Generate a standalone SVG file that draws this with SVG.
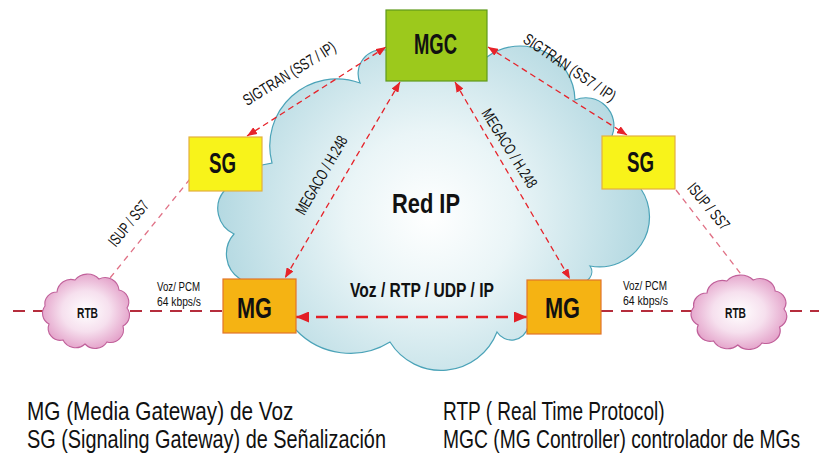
<svg xmlns="http://www.w3.org/2000/svg" width="819" height="463" viewBox="0 0 819 463">
<style>
  text { font-family: "Liberation Sans", Arial, sans-serif; fill: #111; }
  .b { font-weight: bold; }
  .box-mgc { fill: #9cc91c; stroke: #5f9a1c; stroke-width: 1.2; }
  .box-sg { fill: #f8f31a; stroke: #e3b040; stroke-width: 1.2; }
  .box-mg { fill: #f5b313; stroke: #e2742a; stroke-width: 1.2; }
  .sig { fill: none; stroke: #e6232a; stroke-width: 1.3; stroke-dasharray: 6 4; }
  .isup { fill: none; stroke: #e07085; stroke-width: 1.3; stroke-dasharray: 6 5; }
  .media { fill: none; stroke: #e21f26; stroke-width: 2.4; stroke-dasharray: 12 8; }
  .pstn { fill: none; stroke: #b52d3c; stroke-width: 2; stroke-dasharray: 12 8; }
  .small { font-size: 13px; }
  .rot { font-size: 16px; }
  .legend { font-size: 25px; }
</style>
<defs>
  <radialGradient id="gIP" gradientUnits="userSpaceOnUse" cx="430" cy="215" r="240">
    <stop offset="0" stop-color="#ffffff"/>
    <stop offset="0.35" stop-color="#eaf5f7"/>
    <stop offset="1" stop-color="#a9d3dd"/>
  </radialGradient>
  <radialGradient id="gRTB" cx="0.5" cy="0.5" r="0.55">
    <stop offset="0" stop-color="#ffffff"/>
    <stop offset="0.5" stop-color="#f6e0ee"/>
    <stop offset="1" stop-color="#e29cc6"/>
  </radialGradient>
  <marker id="arS" markerUnits="userSpaceOnUse" markerWidth="10" markerHeight="8" viewBox="0 0 10 8" refX="10" refY="4" orient="auto-start-reverse">
    <path d="M0,0 L10,4 L0,8 z" fill="#e6232a"/>
  </marker>
  <marker id="arL" markerUnits="userSpaceOnUse" markerWidth="13" markerHeight="11" viewBox="0 0 13 11" refX="13" refY="5.5" orient="auto-start-reverse">
    <path d="M0,0 L13,5.5 L0,11 z" fill="#e21f26"/>
  </marker>
  <path id="rtbShape" d="M -30,-18 A 14 14 0 0 1 -12,-30 A 16 16 0 0 1 12,-31 A 14 14 0 0 1 32,-20 A 12 12 0 0 1 40,-2 A 12 12 0 0 1 36,16 A 13 13 0 0 1 20,32 A 14 14 0 0 1 -2,34 A 14 14 0 0 1 -24,30 A 12 12 0 0 1 -38,14 A 12 12 0 0 1 -42,-4 A 12 12 0 0 1 -30,-18 Z" fill="url(#gRTB)" stroke="#c0609a" stroke-width="1.1"/>
</defs>

<g id="red-ip">
  <path d="M 386,50 L 487,57 A 55 55 0 0 1 575,100 A 28 28 0 0 1 612,136 L 641,189 A 50 50 0 0 1 590,266 A 10 10 0 0 1 578,281 L 528,327 A 17 17 0 0 1 497,332 A 60 60 0 0 1 390,342 A 75 75 0 0 1 296,330 L 240,279 A 30 30 0 0 1 234,234 A 28 28 0 0 1 224,191 L 262,165 L 272,163 A 67 67 0 0 1 360,83 A 24 24 0 0 1 386,50 Z" fill="url(#gIP)" stroke="#4ba3b8" stroke-width="1.2"/>
  <text class="b" x="392" y="213" font-size="28" textLength="68" lengthAdjust="spacingAndGlyphs">Red IP</text>
</g>

<g id="connectors">
  <line class="sig" x1="386" y1="47" x2="247" y2="136" marker-start="url(#arS)" marker-end="url(#arS)"/>
  <line class="sig" x1="488" y1="47" x2="627" y2="135" marker-start="url(#arS)" marker-end="url(#arS)"/>
  <line class="sig" x1="400" y1="82" x2="285" y2="278" marker-start="url(#arS)" marker-end="url(#arS)"/>
  <line class="sig" x1="455" y1="82" x2="570" y2="279" marker-start="url(#arS)" marker-end="url(#arS)"/>
  <line class="media" x1="296" y1="317" x2="527" y2="317" marker-start="url(#arL)" marker-end="url(#arL)"/>
  <line class="isup" x1="190" y1="179" x2="110" y2="278"/>
  <line class="isup" x1="676" y1="190" x2="744" y2="278"/>
  <line class="pstn" x1="13" y1="311" x2="44" y2="311"/>
  <line class="pstn" x1="130" y1="311" x2="223" y2="311"/>
  <line class="pstn" x1="601" y1="311" x2="692" y2="311"/>
  <line class="pstn" x1="790" y1="311" x2="819" y2="311"/>

  <g transform="translate(289,73) rotate(-32)"><text class="rot" x="-53" y="6" textLength="106" lengthAdjust="spacingAndGlyphs">SIGTRAN (SS7 / IP)</text></g>
  <g transform="translate(570,67) rotate(34)"><text class="rot" x="-54" y="6" textLength="108" lengthAdjust="spacingAndGlyphs">SIGTRAN (SS7 / IP)</text></g>
  <g transform="translate(321,175) rotate(-60)"><text class="rot" x="-44" y="6" textLength="88" lengthAdjust="spacingAndGlyphs">MEGACO / H.248</text></g>
  <g transform="translate(510,148) rotate(58)"><text class="rot" x="-45" y="6" textLength="90" lengthAdjust="spacingAndGlyphs">MEGACO / H.248</text></g>
  <g transform="translate(128,223) rotate(-51)"><text class="rot" x="-27" y="6" textLength="54" lengthAdjust="spacingAndGlyphs">ISUP / SS7</text></g>
  <g transform="translate(709,206) rotate(50)"><text class="rot" x="-28" y="6" textLength="56" lengthAdjust="spacingAndGlyphs">ISUP / SS7</text></g>

  <text class="b" x="350" y="297" font-size="21" textLength="144" lengthAdjust="spacingAndGlyphs">Voz / RTP / UDP / IP</text>
  <text class="small" x="157" y="291" textLength="43" lengthAdjust="spacingAndGlyphs">Voz/ PCM</text>
  <text class="small" x="157" y="306" textLength="44" lengthAdjust="spacingAndGlyphs">64 kbps/s</text>
  <text class="small" x="623" y="290" textLength="44" lengthAdjust="spacingAndGlyphs">Voz/ PCM</text>
  <text class="small" x="623" y="305" textLength="45" lengthAdjust="spacingAndGlyphs">64 kbps/s</text>
</g>

<g id="MGC">
  <rect class="box-mgc" x="386" y="10" width="101" height="71"/>
  <text class="b" x="414" y="54" font-size="29" textLength="43" lengthAdjust="spacingAndGlyphs">MGC</text>
</g>
<g id="SG-left">
  <rect class="box-sg" x="189" y="137" width="73" height="54"/>
  <text class="b" x="209" y="173" font-size="30" textLength="27" lengthAdjust="spacingAndGlyphs">SG</text>
</g>
<g id="SG-right">
  <rect class="box-sg" x="602" y="136" width="73" height="53"/>
  <text class="b" x="627" y="172" font-size="30" textLength="27" lengthAdjust="spacingAndGlyphs">SG</text>
</g>
<g id="MG-left">
  <rect class="box-mg" x="223" y="279" width="73" height="54"/>
  <text class="b" x="237" y="318" font-size="29" textLength="35" lengthAdjust="spacingAndGlyphs">MG</text>
</g>
<g id="MG-right">
  <rect class="box-mg" x="527" y="280" width="74" height="54"/>
  <text class="b" x="545" y="318" font-size="29" textLength="35" lengthAdjust="spacingAndGlyphs">MG</text>
</g>
<g id="RTB-left">
  <use href="#rtbShape" transform="translate(87,310)"/>
  <text class="b" x="77" y="318" font-size="15" textLength="21" lengthAdjust="spacingAndGlyphs">RTB</text>
</g>
<g id="RTB-right">
  <use href="#rtbShape" transform="translate(740,311) scale(1.1,1)"/>
  <text class="b" x="725" y="318" font-size="15" textLength="21" lengthAdjust="spacingAndGlyphs">RTB</text>
</g>

<g id="legend">
  <text class="legend" transform="translate(27,420) scale(0.83,1)">MG (Media Gateway) de Voz</text>
  <text class="legend" transform="translate(27,448) scale(0.795,1)">SG (Signaling Gateway) de Señalización</text>
  <text class="legend" transform="translate(443,420) scale(0.762,1)">RTP ( Real Time Protocol)</text>
  <text class="legend" transform="translate(443,448) scale(0.77,1)">MGC (MG<tspan dx="7">Controller)</tspan> controlador de MGs</text>
</g>
</svg>
